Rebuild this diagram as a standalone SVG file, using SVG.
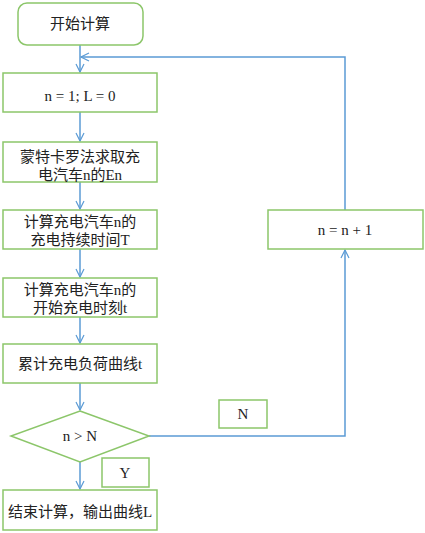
<svg xmlns="http://www.w3.org/2000/svg" width="425" height="533" viewBox="0 0 425 533">
<defs>
<marker id="arr" markerWidth="10" markerHeight="10" refX="9" refY="5" orient="auto" markerUnits="userSpaceOnUse">
<path d="M1,1 L9,5 L1,9" fill="none" stroke="#5b9bd5" stroke-width="1.2"/>
</marker>
<style>
.n{fill:#fff;stroke:#8cc66a;stroke-width:1.5}
.t{font-family:"Liberation Serif","Noto Sans CJK SC",serif;font-size:15px;fill:#222;text-anchor:middle;dominant-baseline:central}
.c{fill:none;stroke:#5b9bd5;stroke-width:1.5}
</style>
</defs>
<rect width="425" height="533" fill="#fff"/>
<g id="connectors">
<path class="c" d="M80,45 V72" marker-end="url(#arr)"/>
<path class="c" d="M80,112 V141" marker-end="url(#arr)"/>
<path class="c" d="M80,182 V209" marker-end="url(#arr)"/>
<path class="c" d="M80,249 V277" marker-end="url(#arr)"/>
<path class="c" d="M80,317 V343" marker-end="url(#arr)"/>
<path class="c" d="M80,383 V410" marker-end="url(#arr)"/>
<path class="c" d="M80,462 V489" marker-end="url(#arr)"/>
<path class="c" d="M149,436 H345 V250" marker-end="url(#arr)"/>
<path class="c" d="M345,210 V57 H81" marker-end="url(#arr)"/>
</g>
<g id="start"><rect class="n" x="18" y="3" width="125" height="42" rx="9"/><text class="t" x="80" y="24">开始计算</text></g>
<g id="init"><rect class="n" x="3" y="73" width="154" height="39"/><text class="t" x="80" y="96">n = 1; L = 0</text></g>
<g id="mc"><rect class="n" x="3" y="142" width="154" height="40"/><text class="t" x="80" y="157">蒙特卡罗法求取充</text><text class="t" x="80" y="175">电汽车n的En</text></g>
<g id="dur"><rect class="n" x="3" y="210" width="154" height="39"/><text class="t" x="80" y="222">计算充电汽车n的</text><text class="t" x="80" y="240">充电持续时间T</text></g>
<g id="st"><rect class="n" x="3" y="278" width="154" height="39"/><text class="t" x="80" y="290">计算充电汽车n的</text><text class="t" x="80" y="308">开始充电时刻t</text></g>
<g id="acc"><rect class="n" x="3" y="344" width="154" height="39"/><text class="t" x="80" y="364">累计充电负荷曲线t</text></g>
<g id="dec"><polygon class="n" points="80,411 149,436 80,462 11,436"/><text class="t" x="80" y="436">n &gt; N</text></g>
<g id="ylabel"><rect class="n" x="102" y="458" width="47" height="29"/><text class="t" x="125" y="473">Y</text></g>
<g id="nlabel"><rect class="n" x="219" y="400" width="48" height="28"/><text class="t" x="243" y="414">N</text></g>
<g id="end"><rect class="n" x="3" y="490" width="154" height="40"/><text class="t" x="80" y="512">结束计算，输出曲线L</text></g>
<g id="inc"><rect class="n" x="268" y="210" width="155" height="39"/><text class="t" x="345" y="230">n = n + 1</text></g>
</svg>
